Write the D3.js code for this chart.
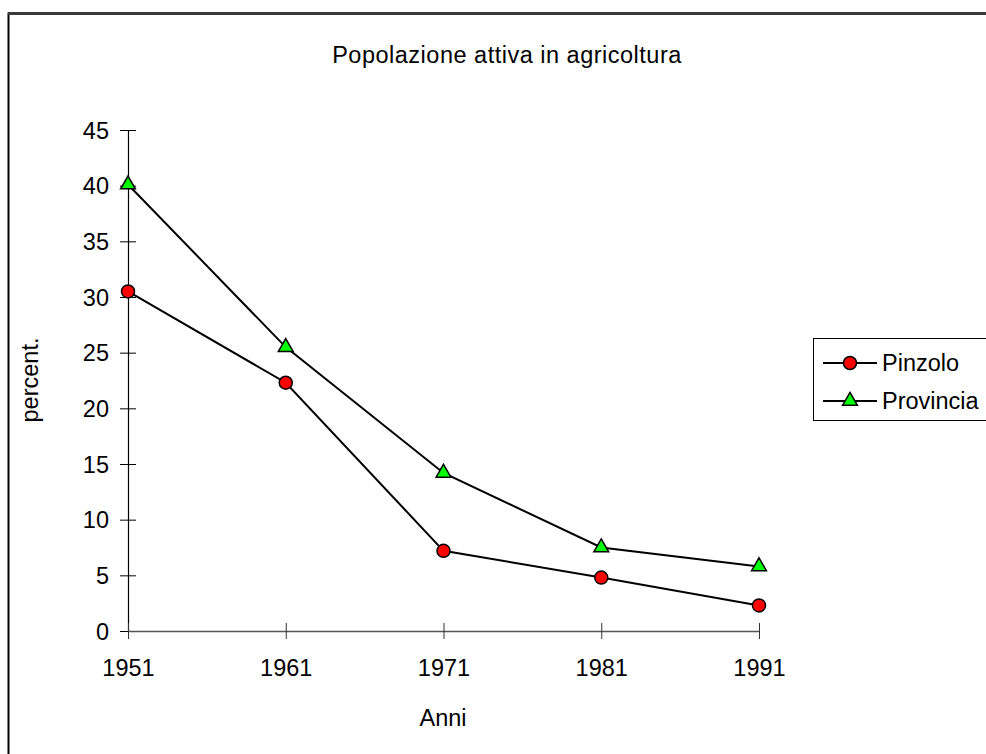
<!DOCTYPE html>
<html>
<head>
<meta charset="utf-8">
<script src="https://cdn.jsdelivr.net/npm/d3@7"></script>
<style>
  html, body { margin: 0; padding: 0; background: #fff; }
  svg { display: block; font-family: "Liberation Sans", Arial, sans-serif; }
  svg text { font-size: 23.5px; fill: #000; }
</style>
</head>
<body>
<svg id="chart" width="986" height="754"></svg>
<script>
// Share of the working population employed in agriculture (%)
const years = ["1951", "1961", "1971", "1981", "1991"];
const pinzolo = [30.5, 22.3, 7.2, 4.8, 2.3];
const provincia = [40.1, 25.5, 14.2, 7.5, 5.8];
const yTicks = [0, 5, 10, 15, 20, 25, 30, 35, 40, 45];
const seriesNames = ["Pinzolo", "Provincia"];

const svg = d3.select("#chart");

// outer frame
svg.append("rect")
  .attr("x", 8.5).attr("y", 13.5)
  .attr("width", 990).attr("height", 800)
  .attr("fill", "none").attr("stroke", "#000").attr("stroke-width", 2);
svg.append("line")
  .attr("x1", 8).attr("x2", 986).attr("y1", 13.5).attr("y2", 13.5)
  .attr("stroke", "#3a3a3a").attr("stroke-width", 3);

const x = d3.scalePoint().domain(years).range([128, 759]);
const y = d3.scaleLinear().domain([0, 45]).range([631, 130]);

// title
svg.append("text")
  .attr("x", 507).attr("y", 63)
  .attr("text-anchor", "middle")
  .style("letter-spacing", "0.5px")
  .text("Popolazione attiva in agricoltura");

// y axis
const yAxis = svg.append("g")
  .attr("transform", "translate(128,0)")
  .call(d3.axisLeft(y).tickValues(yTicks).tickSize(0).tickPadding(0).tickFormat(d3.format("d")));
yAxis.attr("font-size", null).attr("font-family", null);
yAxis.select(".domain").attr("stroke", "#000").attr("stroke-width", 1.2);
yAxis.selectAll(".tick text")
  .attr("x", -19).attr("dy", "0.35em");
yAxis.selectAll(".tick").append("line")
  .attr("x1", -8).attr("x2", 8).attr("stroke", "#000").attr("stroke-width", 1);

// x axis
const xAxis = svg.append("g")
  .attr("transform", "translate(0,631)")
  .call(d3.axisBottom(x).tickSize(0).tickPadding(0));
xAxis.attr("font-size", null).attr("font-family", null);
xAxis.select(".domain").attr("stroke", "#555").attr("stroke-width", 1.5);
xAxis.selectAll(".tick text")
  .attr("y", 28).attr("dy", "0.71em");
xAxis.selectAll(".tick").append("line")
  .attr("y1", -8).attr("y2", 8).attr("stroke", "#333").attr("stroke-width", 1);

// axis titles
svg.append("text")
  .attr("transform", "translate(38,380) rotate(-90)")
  .attr("text-anchor", "middle")
  .text("percent.");
svg.append("text")
  .attr("x", 443).attr("y", 726)
  .attr("text-anchor", "middle")
  .text("Anni");

const line = d3.line().x((d, i) => x(years[i])).y(d => y(d));
const tri = d3.symbol().type(d3.symbolTriangle).size(95);

function drawSeries(values, kind) {
  svg.append("path")
    .datum(values)
    .attr("d", line)
    .attr("fill", "none").attr("stroke", "#000").attr("stroke-width", 2);
  const g = svg.append("g");
  if (kind === "circle") {
    g.selectAll("circle").data(values).join("circle")
      .attr("cx", (d, i) => x(years[i])).attr("cy", d => y(d))
      .attr("r", 6.5).attr("fill", "#ff0000").attr("stroke", "#000").attr("stroke-width", 1.5);
  } else {
    g.selectAll("path").data(values).join("path")
      .attr("d", tri)
      .attr("transform", (d, i) => `translate(${x(years[i])},${y(d)})`)
      .attr("fill", "#00ff00").attr("stroke", "#000").attr("stroke-width", 1.5);
  }
}
drawSeries(pinzolo, "circle");
drawSeries(provincia, "triangle");

// legend
const lg = svg.append("g");
lg.append("rect")
  .attr("x", 813.5).attr("y", 338.5).attr("width", 200).attr("height", 82)
  .attr("fill", "#fff").attr("stroke", "#000").attr("stroke-width", 1);
const rows = [363, 401];
seriesNames.forEach((name, i) => {
  const ry = rows[i];
  lg.append("line").attr("x1", 823).attr("x2", 877).attr("y1", ry).attr("y2", ry)
    .attr("stroke", "#000").attr("stroke-width", 2);
  if (i === 0) {
    lg.append("circle").attr("cx", 850).attr("cy", ry).attr("r", 6.5)
      .attr("fill", "#ff0000").attr("stroke", "#000").attr("stroke-width", 1.5);
  } else {
    lg.append("path").attr("d", tri).attr("transform", `translate(850,${ry})`)
      .attr("fill", "#00ff00").attr("stroke", "#000").attr("stroke-width", 1.5);
  }
  lg.append("text").attr("x", 882).attr("y", ry).attr("dy", "0.35em")
    .text(name);
});
</script>
</body>
</html>
